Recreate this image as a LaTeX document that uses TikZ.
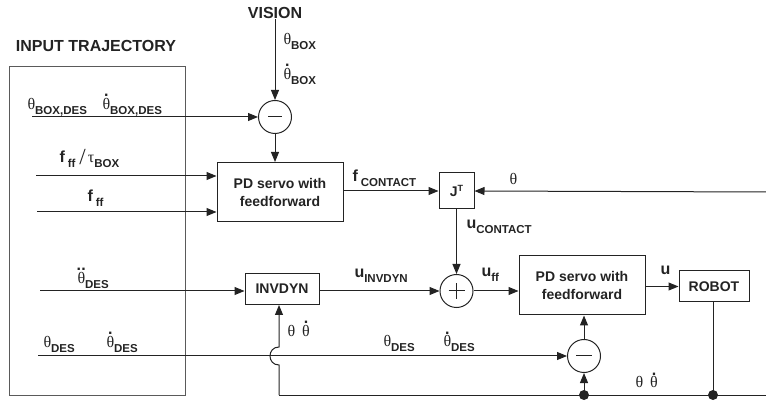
\documentclass[tikz,border=0pt]{standalone}
\usepackage{fontspec}
\setmainfont{Liberation Sans}
\newfontfamily\serifgr{Liberation Serif}
\usetikzlibrary{arrows.meta}
\newcommand\gth{{\serifgr\mdseries\fontsize{16}{16}\selectfont θ}}
\newcommand\gtau{{\serifgr\mdseries\fontsize{16}{16}\selectfont τ}}
\newcommand\gthd{\ooalign{\gth\cr\hidewidth\raisebox{13pt}{.}\hidewidth\cr}}
\newcommand\gthdd{\ooalign{\gth\cr\hidewidth\raisebox{13pt}{.\kern0.3pt.}\hidewidth\cr}}
\newcommand\sbs[1]{\raisebox{-4.5pt}{\fontsize{11.5}{12}\selectfont\bfseries #1}}
\definecolor{ln}{RGB}{35,35,35}
\tikzset{
  arr/.style={-{Triangle[length=10pt,width=8pt]}},
  blk/.style={draw=ln, line width=1pt, rectangle, inner sep=0pt, align=center,
    font=\fontsize{14}{18}\selectfont\bfseries},
  sumc/.style={draw=ln, line width=1pt, circle, minimum size=33pt, inner sep=0pt},
  lbl/.style={anchor=base west, inner sep=0pt, font=\fontsize{16}{18}\selectfont\bfseries},
  ttl/.style={inner sep=0pt, font=\fontsize{16}{18}\selectfont\bfseries},
  dotc/.style={circle, fill=ln, draw=none, minimum size=10pt, inner sep=0pt}
}
\begin{document}
\begin{tikzpicture}[x=1pt,y=-1pt,line width=1pt,color=ln]
\useasboundingbox (0,0) rectangle (766,403);
% boxes
\node[blk, draw=ln!75, minimum width=176pt, minimum height=328pt] (traj) at (97,231) {};
\node[ttl] (trajt) at (96,46) {INPUT TRAJECTORY};
\node[ttl] (vision) at (275,13) {VISION};
\node[blk, minimum width=126pt, minimum height=59pt] (pd1) at (280,192) {PD servo with\\feedforward};
\node[blk, minimum width=35pt, minimum height=36pt] (jt) at (456.5,191) {J\raisebox{5pt}{\fontsize{9}{9}\selectfont T}};
\node[blk, minimum width=74pt, minimum height=31pt] (invdyn) at (282,289) {INVDYN};
\node[blk, minimum width=126pt, minimum height=59pt] (pd2) at (582,285.5) {PD servo with\\feedforward};
\node[blk, minimum width=70pt, minimum height=31pt] (robot) at (714,286.5) {ROBOT};
% summing junctions
\node[sumc] (m1) at (275,117) {};
\node[sumc] (pl) at (456.5,291) {};
\node[sumc] (m2) at (584,356) {};
\draw ([xshift=-7pt]m1.center) -- ([xshift=7pt]m1.center);
\draw ([xshift=-8pt]pl.center) -- ([xshift=8pt]pl.center);
\draw ([yshift=-8pt]pl.center) -- ([yshift=8pt]pl.center);
\draw ([xshift=-8pt]m2.center) -- ([xshift=8pt]m2.center);
% dots
\node[dotc] (d1) at (584,395) {};
\node[dotc] (d2) at (713,395) {};
% free ends
\coordinate (a1) at (32,117);
\coordinate (a2) at (36,176);
\coordinate (a3) at (37,212);
\coordinate (a4) at (40,291);
\coordinate (a5) at (38,356);
\coordinate (th) at (766,192);
\coordinate (bl) at (279,395);
\coordinate (br) at (766,395);
% connectors
\draw[arr] (vision.south) -- (m1.north);
\draw[arr] (a1) -- (m1.west);
\draw[arr] (m1.south) -- (m1.south |- pd1.north);
\draw[arr] (a2) -- (a2 -| pd1.west);
\draw[arr] (a3) -- (a3 -| pd1.west);
\draw[arr] (pd1.east |- jt.west) -- (jt.west);
\draw[arr] (th) -- (jt.east);
\draw[arr] (jt.south) -- (pl.north);
\draw[arr] (a4) -- (a4 -| invdyn.west);
\draw[arr] (invdyn.east |- pl.west) -- (pl.west);
\draw[arr] (pl.east) -- (pl.east -| pd2.west);
\draw[arr] (pd2.east |- robot.west) -- (robot.west);
\draw (robot.south -| d2) -- (d2.center);
\draw (bl) -- (br);
\draw[arr] (d1.center) -- (m2.south);
\draw[arr] (m2.north) -- (m2.north |- pd2.south);
\draw[arr] (a5) -- (m2.west);
\draw[arr] (bl) -- (279,365) .. controls (267,365) and (267,347) .. (279,347) -- (bl |- invdyn.south);
% labels
\node[lbl] (l1) at (27,110) {\gth\sbs{BOX,DES}};
\node[lbl] (l2) at (102,110) {\gthd\sbs{BOX,DES}};
\node[lbl] (l3) at (283,45) {\gth\sbs{BOX}};
\node[lbl] (l4) at (283,80) {\gthd\sbs{BOX}};
\node[lbl] (l5) at (59,163) {f\kern3pt\sbs{ff}\kern4pt\raisebox{-2pt}{\serifgr\mdseries\fontsize{23}{23}\selectfont /}\kern2pt\gtau\sbs{BOX}};
\node[lbl] (l6) at (87,202) {f\kern3pt\sbs{ff}};
\node[lbl] (l7) at (77,284) {\gthdd\sbs{DES}};
\node[lbl] (l8) at (43,348) {\gth\sbs{DES}};
\node[lbl] (l9) at (106,348) {\gthd\sbs{DES}};
\node[lbl] (l10) at (287,337) {\gth\kern7pt\gthd};
\node[lbl] (l11) at (383,347) {\gth\sbs{DES}};
\node[lbl] (l12) at (443,347) {\gthd\sbs{DES}};
\node[lbl] (l13) at (635,388) {\gth\kern7pt\gthd};
\node[lbl] (l14) at (509,185) {\gth};
\node[lbl] (l15) at (352,182) {f\kern3pt\sbs{CONTACT}};
\node[lbl] (l16) at (466,229) {u\sbs{CONTACT}};
\node[lbl] (l17) at (354,278) {u\sbs{INVDYN}};
\node[lbl] (l18) at (481,277) {u\sbs{ff}};
\node[lbl] (l19) at (660,275) {u};
\end{tikzpicture}
\end{document}
